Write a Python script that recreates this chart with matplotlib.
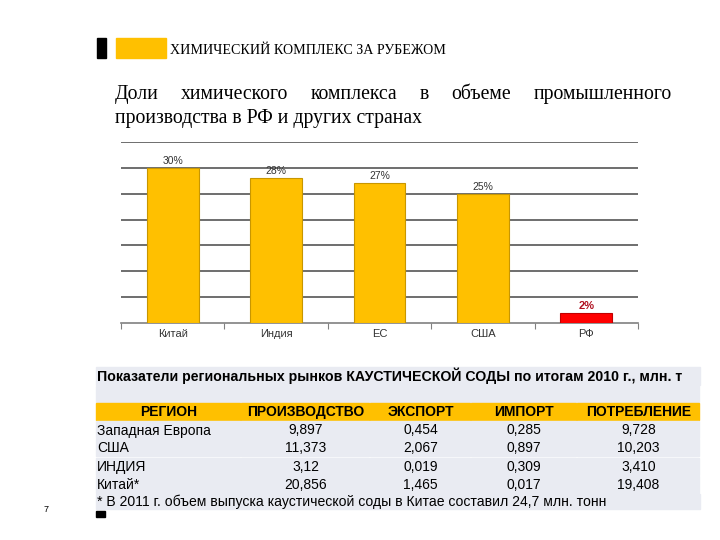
import matplotlib
matplotlib.use('Agg')
import matplotlib.pyplot as plt
from matplotlib.patches import Rectangle

# chart data
countries = ['Китай', 'Индия', 'ЕС', 'США', 'РФ']
shares = [30, 28, 27, 25, 2]

# table data
table_title = 'Показатели региональных рынков КАУСТИЧЕСКОЙ СОДЫ по итогам 2010 г., млн. т'
columns = ['РЕГИОН', 'ПРОИЗВОДСТВО', 'ЭКСПОРТ', 'ИМПОРТ', 'ПОТРЕБЛЕНИЕ']
regions = ['Западная Европа', 'США', 'ИНДИЯ', 'Китай*']
production = ['9,897', '11,373', '3,12', '20,856']
export = ['0,454', '2,067', '0,019', '1,465']
imports = ['0,285', '0,897', '0,309', '0,017']
consumption = ['9,728', '10,203', '3,410', '19,408']
footnote = '* В 2011 г. объем выпуска каустической соды в Китае составил 24,7 млн. тонн'

header = 'ХИМИЧЕСКИЙ КОМПЛЕКС ЗА РУБЕЖОМ'
title_line1 = ['Доли', 'химического', 'комплекса', 'в', 'объеме', 'промышленного']
title_line2 = 'производства в РФ и других странах'

YELLOW = '#FFC000'
ROWBG = '#E9EBF2'
SERIF = 'Liberation Serif'
SANS = 'Liberation Sans'

fig = plt.figure(figsize=(7.2, 5.4), dpi=100)

# background axes in pixel coordinates for slide decorations and the table
bg = fig.add_axes([0, 0, 1, 1])
bg.set_xlim(0, 720)
bg.set_ylim(540, 0)
bg.axis('off')

bg.add_patch(Rectangle((97, 38), 9, 20, color='black'))
bg.add_patch(Rectangle((116, 38), 50, 20, color=YELLOW))
bg.text(170, 53.5, header, family=SERIF, fontsize=10.1, va='baseline', ha='left')

# justified first line of the title
fig.canvas.draw()
r = fig.canvas.get_renderer()
words = [bg.text(0, 99, w, family=SERIF, fontsize=14.2, va='baseline', ha='left') for w in title_line1]
widths = [t.get_window_extent(r).width for t in words]
x0, x1 = 115, 672
gap = (x1 - x0 - sum(widths)) / (len(words) - 1)
x = x0
for t, w in zip(words, widths):
    t.set_x(x)
    x += w + gap
bg.text(115, 123, title_line2, family=SERIF, fontsize=14.2, va='baseline', ha='left')

# bar chart
ax = fig.add_axes([121 / 720, 1 - 323 / 540, 517 / 720, 181 / 540])
colors = [YELLOW] * 4 + ['#FF0000']
edges = ['#C89600'] * 4 + ['#C00000']
pos = range(len(countries))
ax.bar(pos, shares, width=0.5, color=colors, edgecolor=edges, linewidth=0.8, zorder=3)
for i, v in enumerate(shares):
    if i == len(shares) - 1:
        ax.text(i, v + 0.4, f'{v}%', ha='center', va='bottom', fontsize=8,
                family=SANS, color='#B01020', fontweight='bold')
    else:
        ax.text(i, v + 0.4, f'{v}%', ha='center', va='bottom', fontsize=7.5,
                family=SANS, color='#333333')
ax.set_xlim(-0.5, len(countries) - 0.5)
ax.set_ylim(0, 35)
ax.set_yticks(range(5, 36, 5))
ax.yaxis.grid(True, color='#555555', linewidth=1.2, zorder=0)
ax.tick_params(axis='y', length=0, labelleft=False)
ax.set_xticks([p - 0.5 for p in pos] + [len(countries) - 0.5])
ax.tick_params(axis='x', length=4, color='#808080', labelbottom=False)
for i, c in enumerate(countries):
    ax.text(i, -1.2, c, ha='center', va='top', fontsize=8, family=SANS, color='#333333')
for s in ['top', 'left', 'right']:
    ax.spines[s].set_visible(False)
ax.spines['bottom'].set_color('#808080')
ax.spines['bottom'].set_linewidth(1.2)

# table
col_x = [96, 241, 370, 471, 577, 700]
bg.add_patch(Rectangle((96, 367), 604, 17.5, color=ROWBG))
bg.text(97, 380.5, table_title, family=SANS, fontsize=10.2, fontweight='bold', va='baseline', ha='left')
for a, b in zip(col_x[:-1], col_x[1:]):
    bg.add_patch(Rectangle((a, 385.5), b - a - 1.2, 16, color=ROWBG))
    bg.add_patch(Rectangle((a, 402.5), b - a - 1.2, 17.5, color=YELLOW))
for i, c in enumerate(columns):
    bg.text((col_x[i] + col_x[i + 1]) / 2, 416, c, family=SANS, fontsize=10,
            fontweight='bold', va='baseline', ha='center')
row_top = [421, 439, 457.5, 475.5]
row_h = 17
for r_i, top in enumerate(row_top):
    vals = [regions[r_i], production[r_i], export[r_i], imports[r_i], consumption[r_i]]
    for c_i, v in enumerate(vals):
        a, b = col_x[c_i], col_x[c_i + 1]
        bg.add_patch(Rectangle((a, top), b - a - 1.2, row_h, color=ROWBG))
        if c_i == 0:
            bg.text(a + 1, top + 13.5, v, family=SANS, fontsize=10, va='baseline', ha='left')
        else:
            bg.text((a + b) / 2, top + 13.5, v, family=SANS, fontsize=10,
                    va='baseline', ha='center')
bg.add_patch(Rectangle((96, 493.5), 604, 15, color=ROWBG))
bg.text(97, 506, footnote, family=SANS, fontsize=10.1, va='baseline', ha='left')
bg.add_patch(Rectangle((96, 511), 9, 6, color='black'))
bg.text(46, 510, '7', family=SANS, fontsize=6.5, va='center', ha='center')

fig.savefig('out.png', dpi=100)
